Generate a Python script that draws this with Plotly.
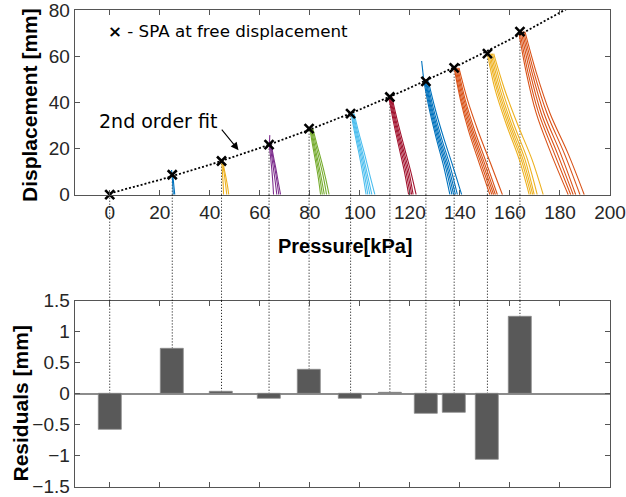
import numpy as np
import plotly.graph_objects as go

# ---------------- data ----------------
pressures = [0, 25, 44.7, 63.7, 79.7, 96.3, 112, 126.4, 137.7, 151, 164]
displacements = [0, 8.65, 14.6, 21.7, 28.6, 35.1, 42.3, 49.1, 54.9, 61.1, 70.6]
residuals = [-0.58, 0.73, 0.03, -0.075, 0.39, -0.085, 0.02, -0.32, -0.30, -1.07, 1.24]

curve_colors = ['#0072BD', '#EDB120', '#7E2F8E', '#77AC30', '#4DBEEE',
                '#A2142F', '#0072BD', '#D95319', '#EDB120', '#D95319']

# displacement levels (mm) at which each curve's pressure was read
curve_levels = [
    [8.65, 6.5, 4.3, 2.2, 0],
    [14.6, 11.0, 7.3, 3.7, 0],
    [21.7, 16.3, 10.9, 5.4, 0],
    [28.6, 21.5, 14.3, 7.2, 0],
    [35.1, 26.3, 17.6, 8.8, 0],
    [42.3, 31.7, 21.2, 10.6, 0],
    [49.1, 36.8, 24.6, 12.3, 0],
    [54.9, 41.2, 27.5, 13.7, 0],
    [61.1, 45.8, 30.6, 15.3, 0],
    [70.6, 53.0, 35.3, 17.7, 0],
]

# pressure (kPa) of each measured curve at the levels above
curve_pressures = [
    [[25.0, 25.1, 25.2, 25.3, 25.4],
     [25.2, 25.4, 25.6, 25.8, 26.0]],
    [[44.8, 45.0, 45.2, 45.4, 45.5],
     [45.0, 45.5, 46.0, 46.4, 46.8],
     [45.2, 45.8, 46.5, 47.1, 47.6]],
    [[63.8, 64.3, 64.8, 65.2, 65.5],
     [64.1, 64.8, 65.5, 66.2, 66.8],
     [64.4, 65.2, 66.1, 66.9, 67.6],
     [64.6, 65.5, 66.5, 67.4, 68.3]],
    [[80.0, 81.1, 82.3, 83.4, 84.3],
     [80.3, 81.5, 82.8, 84.0, 85.0],
     [80.6, 81.9, 83.3, 84.6, 85.8],
     [80.9, 82.4, 84.0, 85.5, 86.7],
     [81.2, 82.9, 84.7, 86.3, 87.7]],
    [[96.5, 98.0, 99.7, 101.2, 102.5],
     [96.8, 98.4, 100.2, 101.8, 103.2],
     [97.1, 98.8, 100.7, 102.4, 104.0],
     [97.4, 99.2, 101.2, 103.0, 104.8],
     [97.7, 99.7, 101.9, 103.9, 106.0]],
    [[111.6, 113.4, 115.5, 117.7, 119.5],
     [111.9, 113.8, 116.0, 118.3, 120.1],
     [112.2, 114.2, 116.5, 118.9, 120.7],
     [112.5, 114.6, 117.0, 119.5, 121.3],
     [112.8, 115.1, 117.6, 120.2, 122.5]],
    [[125.6, 127.8, 130.5, 133.5, 136.0],
     [126.0, 128.2, 131.0, 134.2, 136.8],
     [126.3, 128.6, 131.5, 134.8, 137.5],
     [126.6, 129.0, 132.0, 135.4, 138.2],
     [127.0, 129.5, 132.6, 136.1, 139.0],
     [127.4, 130.2, 133.5, 137.2, 140.7]],
    [[137.7, 140.2, 143.5, 147.7, 152.0],
     [138.0, 140.6, 144.1, 148.4, 152.8],
     [138.4, 141.1, 144.7, 149.1, 153.5],
     [138.8, 141.6, 145.3, 149.8, 154.2],
     [139.2, 142.1, 146.0, 150.6, 155.0],
     [139.6, 143.0, 147.3, 152.2, 157.0]],
    [[151.0, 154.0, 158.5, 163.7, 167.7],
     [151.5, 154.7, 159.2, 164.5, 168.4],
     [152.0, 155.3, 159.9, 165.2, 169.1],
     [152.5, 156.0, 160.6, 166.0, 169.7],
     [153.0, 156.8, 161.5, 167.0, 170.9],
     [153.5, 157.8, 163.0, 168.8, 173.3]],
    [[163.5, 166.5, 170.5, 176.5, 183.3],
     [164.0, 167.2, 171.5, 177.8, 184.3],
     [164.5, 168.0, 172.5, 179.0, 185.3],
     [165.0, 168.8, 173.6, 180.3, 186.3],
     [165.5, 169.6, 174.8, 181.8, 188.0],
     [166.0, 170.5, 176.0, 183.3, 189.7]],
]

# short spikes above the free-displacement point (group index, pressure, displacement)
spike_group = [0, 2, 6]
spike_p = [24.7, 64.0, 124.7]
spike_d = [10.7, 25.8, 57.9]

x_ticks = [0, 20, 40, 60, 80, 100, 120, 140, 160, 180, 200]
y_ticks_top = [0, 20, 40, 60, 80]
y_ticks_bot = [-1.5, -1, -0.5, 0, 0.5, 1, 1.5]

# ---------------- figure ----------------
W, H = 626, 497
xdom = [74.7 / W, 610 / W]
ydom_top = [(H - 194.7) / H, (H - 10) / H]
ydom_bot = [(H - 486.7) / H, (H - 300.7) / H]

fig = go.Figure()

# measured curves
for gi, lines in enumerate(curve_pressures):
    for px in lines:
        fig.add_trace(go.Scatter(
            x=px, y=curve_levels[gi], mode='lines',
            line=dict(color=curve_colors[gi], width=1.1, shape='spline', smoothing=1.0),
            xaxis='x', yaxis='y', showlegend=False, hoverinfo='skip'))
for gi, sp, sd in zip(spike_group, spike_p, spike_d):
    fig.add_trace(go.Scatter(
        x=[sp, curve_pressures[gi][0][0]], y=[sd, curve_levels[gi][0]], mode='lines',
        line=dict(color=curve_colors[gi], width=1.1),
        xaxis='x', yaxis='y', showlegend=False, hoverinfo='skip'))

# 2nd order fit
coef = np.polyfit(pressures, displacements, 2)
fit_x = np.linspace(0, 200, 400)
fig.add_trace(go.Scatter(
    x=fit_x, y=np.polyval(coef, fit_x), mode='lines',
    line=dict(color='black', width=1.8, dash='2px,2px'),
    xaxis='x', yaxis='y', showlegend=False, hoverinfo='skip'))

# free displacement markers
fig.add_trace(go.Scatter(
    x=pressures, y=displacements, mode='markers',
    marker=dict(symbol='x-thin', size=9, color='black', line=dict(color='black', width=2.6)),
    xaxis='x', yaxis='y', showlegend=False, cliponaxis=False))

# residual bars
fig.add_trace(go.Bar(
    x=pressures, y=residuals, width=9.2,
    marker=dict(color='#595959', line=dict(color='#8a8a8a', width=0.8)),
    xaxis='x2', yaxis='y2', showlegend=False))

# dotted connector lines
shapes = []
dot = dict(color='black', width=1, dash='1px,2px')
for p, d, r in zip(pressures, displacements, residuals):
    shapes.append(dict(type='line', xref='x', yref='y', x0=p, x1=p, y0=0, y1=d, line=dot, layer='below'))
    shapes.append(dict(type='line', xref='x', yref='paper', x0=p, x1=p,
                       y0=ydom_bot[1], y1=ydom_top[0], line=dot, layer='above'))
    shapes.append(dict(type='line', xref='x2', yref='y2', x0=p, x1=p,
                       y0=max(r, 0), y1=1.5, line=dot, layer='below'))

axcol = '#555555'
tickfont = dict(family='Liberation Sans, Arial, sans-serif', size=19, color='#262626')
common_x = dict(range=[-14, 200], tickvals=x_ticks, ticks='inside', ticklen=5,
                tickcolor=axcol, showline=True, linecolor=axcol, linewidth=1.2,
                mirror='ticks', showgrid=False, zeroline=False, domain=xdom,
                tickfont=tickfont, automargin=False, ticklabeloverflow='allow')

fig.update_layout(
    width=W, height=H,
    margin=dict(l=0, r=0, t=0, b=0),
    paper_bgcolor='white', plot_bgcolor='white',
    xaxis=dict(common_x, anchor='y'),
    yaxis=dict(range=[0, 80], tickvals=y_ticks_top, ticks='inside', ticklen=5,
               tickcolor=axcol, showline=True, linecolor=axcol, linewidth=1.2,
               mirror='ticks', showgrid=False, zeroline=False, domain=ydom_top,
               tickfont=tickfont, anchor='x', automargin=False, ticklabeloverflow='allow'),
    xaxis2=dict(common_x, anchor='y2', showticklabels=False),
    yaxis2=dict(range=[-1.5, 1.5], tickvals=y_ticks_bot, ticks='inside', ticklen=5,
                tickcolor=axcol, showline=True, linecolor=axcol, linewidth=1.2,
                mirror='ticks', showgrid=False, zeroline=True, zerolinecolor='#8c8c8c',
                zerolinewidth=1.5, domain=ydom_bot, tickfont=tickfont, anchor='x2',
                automargin=False, ticklabeloverflow='allow'),
    shapes=shapes,
    bargap=0,
)

titlefont = dict(family='Liberation Sans, Arial, sans-serif', size=21, color='black')
txtfont = dict(family='DejaVu Sans, sans-serif', size=17, color='black')
fig.add_annotation(text='<b>Displacement [mm]</b>', xref='paper', yref='paper',
                   x=29 / W, y=(H - 105) / H, xanchor='center', yanchor='middle',
                   textangle=-90, showarrow=False, font=titlefont)
fig.add_annotation(text='<b>Residuals [mm]</b>', xref='paper', yref='paper',
                   x=19.5 / W, y=(H - 404) / H, xanchor='center', yanchor='middle',
                   textangle=-90, showarrow=False, font=titlefont)
fig.add_annotation(text='<b>Pressure[kPa]</b>', xref='paper', yref='paper',
                   x=345 / W, y=(H - 246) / H, xanchor='center', yanchor='middle',
                   showarrow=False, font=dict(titlefont, size=20))
fig.add_annotation(text='<b>×</b> - SPA at free displacement', xref='paper', yref='paper',
                   x=106 / W, y=(H - 31) / H, xanchor='left', yanchor='middle',
                   showarrow=False, font=dict(txtfont, size=16.7))
fig.add_annotation(text='2nd order fit', xref='paper', yref='paper',
                   x=97 / W, y=(H - 121) / H, xanchor='left', yanchor='middle',
                   showarrow=False, font=dict(txtfont, size=19))
fig.add_annotation(text='', x=51.5, y=19.3, xref='x', yref='y', ax=-18, ay=-22,
                   showarrow=True, arrowhead=2, arrowsize=1.4, arrowwidth=1.1, arrowcolor='black')

fig.write_html('out.html', post_script="document.body.style.margin='0';",
               config={'displayModeBar': False})
